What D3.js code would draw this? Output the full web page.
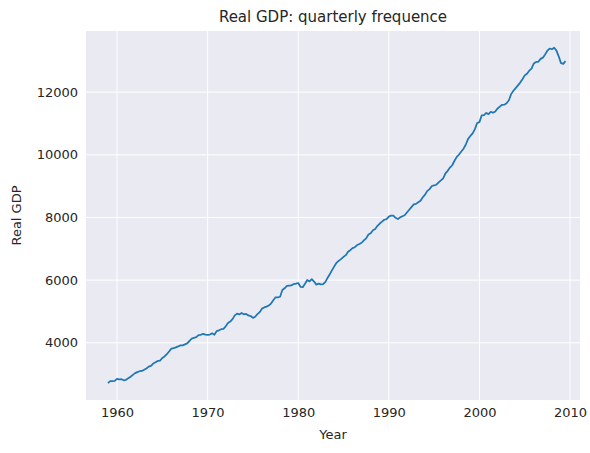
<!DOCTYPE html><html><head><meta charset="utf-8"><script src="https://cdn.jsdelivr.net/npm/d3@7"></script>
<style>body{margin:0;background:#fff}text{font-family:"DejaVu Sans",sans-serif;fill:#262626}</style></head><body><svg id="c" width="590" height="453"></svg><script>
const startYear=1959;
const realgdp=[2710.349,2778.801,2775.488,2785.204,2847.699,2834.390,2839.022,2802.616,2819.264,2872.005,2918.419,2977.830,3031.241,3064.709,3093.047,3100.563,3141.087,3180.447,3240.332,3264.967,3338.246,3376.587,3422.469,3431.957,3516.251,3563.960,3636.285,3724.014,3815.423,3828.124,3853.301,3884.520,3918.740,3919.556,3950.826,3980.970,4063.013,4131.998,4160.267,4178.293,4244.100,4256.460,4283.378,4263.261,4256.573,4264.289,4302.259,4256.637,4374.016,4398.829,4433.943,4446.264,4525.769,4633.101,4677.503,4754.046,4876.166,4932.571,4906.252,4953.050,4909.617,4922.188,4873.520,4854.340,4795.295,4831.942,4913.328,4977.511,5090.695,5128.947,5154.072,5191.499,5251.762,5356.131,5451.921,5450.793,5469.405,5684.569,5740.300,5816.222,5825.949,5831.418,5873.335,5889.495,5908.467,5787.373,5776.617,5883.026,6005.717,5957.795,6030.184,5955.062,5857.333,5889.074,5866.370,5871.001,5944.020,6077.619,6197.468,6325.574,6448.264,6559.594,6623.343,6677.264,6740.275,6797.344,6903.523,6955.918,7022.757,7050.969,7118.950,7153.359,7193.019,7269.510,7332.558,7458.022,7496.600,7592.881,7632.082,7733.991,7806.603,7865.016,7927.393,7944.697,8027.693,8059.598,8059.476,7988.864,7950.164,8003.822,8037.538,8069.046,8157.616,8244.294,8329.361,8417.016,8432.485,8486.435,8531.108,8643.769,8727.919,8847.303,8904.289,9003.180,9025.267,9044.668,9120.684,9184.275,9247.188,9407.052,9488.879,9592.458,9666.235,9809.551,9932.672,10008.874,10103.425,10194.277,10328.787,10507.575,10601.179,10684.049,10819.914,11014.254,11043.044,11258.454,11267.867,11334.544,11297.171,11371.251,11340.075,11380.128,11477.868,11538.770,11596.430,11598.824,11645.819,11738.706,11935.461,12042.817,12127.623,12213.818,12303.533,12410.282,12534.113,12587.535,12683.153,12748.699,12915.938,12962.462,12965.916,13060.679,13099.901,13203.977,13321.109,13391.249,13366.865,13415.266,13324.600,13141.920,12925.410,12901.504,12990.341];
const xTicks=[1960,1970,1980,1990,2000,2010];
const yTicks=[4000,6000,8000,10000,12000];
const svg=d3.select("#c");
const L=86,R=580,T=31,B=400;
const x=d3.scaleLinear().domain([1956.58,2011.1]).range([L,R]);
const y=d3.scaleLinear().domain([2175,13950]).range([B,T]);
svg.append("rect").attr("x",L).attr("y",T).attr("width",R-L).attr("height",B-T).attr("fill","#eaeaf2");
const gx=svg.append("g").attr("transform",`translate(0,${B})`).call(d3.axisBottom(x).tickValues(xTicks).tickFormat(d3.format("d")).tickSize(0).tickPadding(8));
const gy=svg.append("g").attr("transform",`translate(${L},0)`).call(d3.axisLeft(y).tickValues(yTicks).tickFormat(d=>d).tickSize(0).tickPadding(8));
[gx,gy].forEach(g=>{g.select(".domain").remove();g.selectAll("text").attr("font-size",13).attr("fill","#262626").style("font-family","DejaVu Sans");});
svg.append("g").selectAll("line").data(xTicks).join("line").attr("x1",d=>x(d)).attr("x2",d=>x(d)).attr("y1",T).attr("y2",B).attr("stroke","#fff").attr("stroke-width",1);
svg.append("g").selectAll("line").data(yTicks).join("line").attr("x1",L).attr("x2",R).attr("y1",d=>y(d)).attr("y2",d=>y(d)).attr("stroke","#fff").attr("stroke-width",1);
svg.append("path").datum(realgdp).attr("fill","none").attr("stroke","#1f77b4").attr("stroke-width",1.75).attr("stroke-linejoin","round")
 .attr("d",d3.line().x((d,i)=>x(startYear+i*0.25)).y(d=>y(d)));
svg.append("text").attr("x",(L+R)/2).attr("y",22).attr("text-anchor","middle").attr("font-size",15).text("Real GDP: quarterly frequence");
svg.append("text").attr("x",(L+R)/2).attr("y",439).attr("text-anchor","middle").attr("font-size",13).text("Year");
svg.append("text").attr("transform",`translate(21,${(T+B)/2}) rotate(-90)`).attr("text-anchor","middle").attr("font-size",13).text("Real GDP");
</script></body></html>
